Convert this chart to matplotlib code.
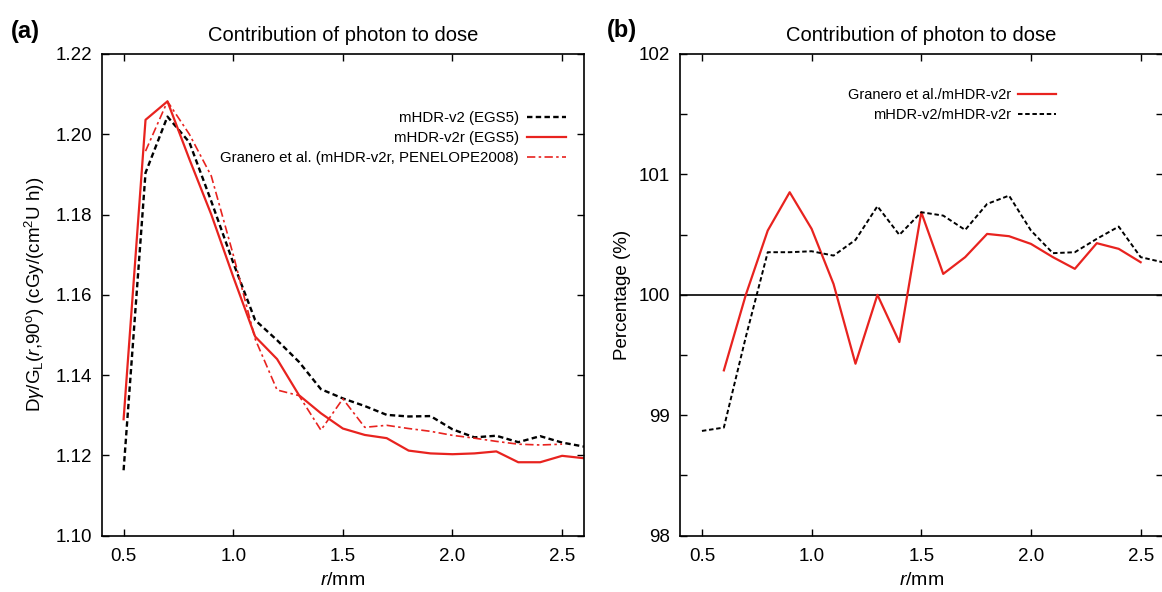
import matplotlib
matplotlib.use("Agg")
import matplotlib.pyplot as plt
from matplotlib.ticker import MultipleLocator

plt.rcParams['font.family'] = ['Liberation Sans', 'DejaVu Sans']
plt.rcParams['mathtext.fontset'] = 'custom'
plt.rcParams['mathtext.rm'] = 'Liberation Sans'
plt.rcParams['mathtext.it'] = 'Liberation Sans:italic'
plt.rcParams['mathtext.bf'] = 'Liberation Sans:bold'

RED = '#e8231f'

# ---- panel (a): dose per unit air-kerma strength ----
r_v2 = [0.5, 0.6, 0.7, 0.8, 0.9, 1.0, 1.1, 1.2, 1.3, 1.4, 1.5, 1.6, 1.7,
        1.8, 1.9, 2.0, 2.1, 2.2, 2.3, 2.4, 2.5, 2.6]
dose_v2 = [1.1163, 1.1904, 1.2044, 1.1980, 1.1833, 1.1680, 1.1537, 1.1487,
           1.1433, 1.1365, 1.1342, 1.1323, 1.1301, 1.1297, 1.1298, 1.1265,
           1.1245, 1.1249, 1.1233, 1.1248, 1.1232, 1.1222]

r_v2r = r_v2
dose_v2r = [1.1290, 1.2036, 1.2082, 1.1938, 1.1800, 1.1645, 1.1496, 1.1440,
            1.1350, 1.1305, 1.1267, 1.1251, 1.1243, 1.1212, 1.1205, 1.1203,
            1.1205, 1.1210, 1.1183, 1.1183, 1.1199, 1.1193]

r_gran = [0.6, 0.7, 0.8, 0.9, 1.0, 1.1, 1.2, 1.3, 1.4, 1.5, 1.6, 1.7, 1.8,
          1.9, 2.0, 2.1, 2.2, 2.3, 2.4, 2.5]
dose_gran = [1.1958, 1.2082, 1.2000, 1.1896, 1.1700, 1.1490, 1.1363, 1.1349,
             1.1263, 1.1341, 1.1270, 1.1275, 1.1267, 1.1260, 1.1250, 1.1243,
             1.1235, 1.1228, 1.1226, 1.1228]

# ---- panel (b): ratios in percent ----
r_ratio_gran = [0.6, 0.7, 0.8, 0.9, 1.0, 1.1, 1.2, 1.3, 1.4, 1.5, 1.6, 1.7,
                1.8, 1.9, 2.0, 2.1, 2.2, 2.3, 2.4, 2.5]
pct_gran = [99.373, 100.0, 100.534, 100.852, 100.548, 100.09, 99.428, 100.0,
            99.608, 100.686, 100.174, 100.313, 100.506, 100.487, 100.423,
            100.313, 100.216, 100.429, 100.382, 100.271]

r_ratio_v2 = [0.5, 0.6, 0.7, 0.8, 0.9, 1.0, 1.1, 1.2, 1.3, 1.4, 1.5, 1.6, 1.7,
              1.8, 1.9, 2.0, 2.1, 2.2, 2.3, 2.4, 2.5, 2.6]
pct_v2 = [98.870, 98.898, 99.65, 100.354, 100.354, 100.362, 100.326, 100.456,
          100.736, 100.498, 100.686, 100.658, 100.539, 100.755, 100.824,
          100.534, 100.346, 100.354, 100.465, 100.567, 100.313, 100.271]

x_ticks = [0.5, 1.0, 1.5, 2.0, 2.5]

fig = plt.figure(figsize=(11.62, 5.92), dpi=100)
ax1 = fig.add_axes([0.0875, 0.0951, 0.4151, 0.8137])
ax2 = fig.add_axes([0.5852, 0.0951, 0.4153, 0.8137])


def style_axes(ax):
    for sp in ax.spines.values():
        sp.set_linewidth(1.2)
    ax.tick_params(which='both', direction='in', top=True, right=True,
                   length=5, width=1.0, labelsize=13.5, pad=7)
    ax.tick_params(axis='x', pad=9)
    ax.set_xticks(x_ticks)
    ax.set_xticklabels(['%.1f' % v for v in x_ticks])
    ax.set_xlim(0.4, 2.6)
    ax.set_xlabel('$r$/mm', fontsize=14, labelpad=5)
    ax.set_title('Contribution of photon to dose', fontsize=14.5, pad=9)


# panel (a)
ax1.plot(r_v2, dose_v2, color='black', lw=1.7, dashes=(2.3, 1.4),
         label='mHDR-v2 (EGS5)')
ax1.plot(r_v2r, dose_v2r, color=RED, lw=1.6, label='mHDR-v2r (EGS5)')
ax1.plot(r_gran, dose_gran, color=RED, lw=1.2, dashes=(5, 2, 1.5, 2),
         label='Granero et al. (mHDR-v2r, PENELOPE2008)')
ax1.set_ylim(1.10, 1.22)
ax1.yaxis.set_major_locator(MultipleLocator(0.02))
ax1.yaxis.set_major_formatter(plt.FormatStrFormatter('%.2f'))
style_axes(ax1)
ax1.set_ylabel(r'D$\gamma$/G$_{\rm L}$($r$,90$^{\rm o}$) (cGy/(cm$^{2}$U h))',
               fontsize=13.5, labelpad=6)
ax1.legend(loc='upper right', bbox_to_anchor=(0.99, 0.91), frameon=False,
           markerfirst=False, fontsize=10.8, handlelength=2.6,
           handletextpad=0.5, labelspacing=0.4)

# panel (b)
ax2.axhline(100, color='black', lw=1.2)
ax2.plot(r_ratio_gran, pct_gran, color=RED, lw=1.6,
         label='Granero et al./mHDR-v2r')
ax2.plot(r_ratio_v2, pct_v2, color='black', lw=1.4, dashes=(2.3, 1.4),
         label='mHDR-v2/mHDR-v2r')
ax2.set_ylim(98, 102)
ax2.yaxis.set_major_locator(MultipleLocator(1))
ax2.yaxis.set_minor_locator(MultipleLocator(0.5))
style_axes(ax2)
ax2.set_ylabel('Percentage (%)', fontsize=13.5, labelpad=6)
ax2.legend(loc='upper right', bbox_to_anchor=(0.807, 0.957), frameon=False,
           markerfirst=False, fontsize=10.5, handlelength=2.6,
           handletextpad=0.5, labelspacing=0.45)

fig.text(0.009, 0.935, '(a)', fontsize=17, fontweight='bold')
fig.text(0.522, 0.938, '(b)', fontsize=17, fontweight='bold')

fig.savefig('out.png', dpi=100)
